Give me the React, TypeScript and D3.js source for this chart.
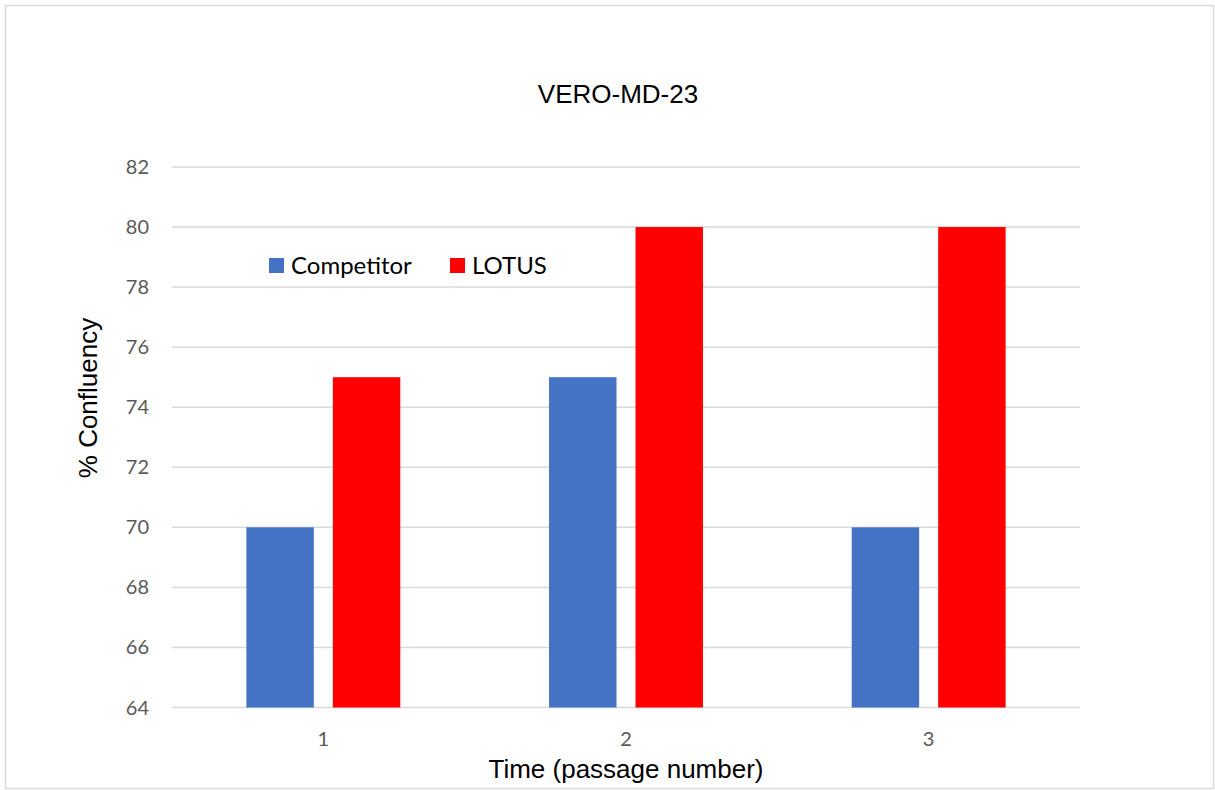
import React from "react";
import * as d3 from "d3";

const categories = ["1", "2", "3"];
const seriesNames = ["Competitor", "LOTUS"];
const competitorValues = [70, 75, 70];
const lotusValues = [75, 80, 80];
const yTicks = [64, 66, 68, 70, 72, 74, 76, 78, 80, 82];
const colors = ["#4472C4", "#FF0000"];

const W = 1215;
const H = 790;
const plotLeft = 172;
const plotRight = 1080;
const plotTop = 167;
const plotBottom = 707.5;

export default function App() {
  const x0 = d3.scaleBand<string>().domain(categories).range([plotLeft, plotRight]).padding(0);
  const x1 = d3
    .scaleBand<string>()
    .domain(seriesNames)
    .range([0, x0.bandwidth()])
    .paddingInner(0.22)
    .paddingOuter(0.86);
  const y = d3.scaleLinear().domain([64, 82]).range([plotBottom, plotTop]);
  const seriesValues = [competitorValues, lotusValues];
  const tickFont = "Lato, 'Open Sans', sans-serif";
  const arial = "'Liberation Sans', Arial, sans-serif";

  return (
    <svg
      width={W}
      height={H}
      style={{ position: "absolute", left: 0, top: 0, background: "#fff" }}
    >
      <rect x={5.5} y={5.5} width={1208} height={783} fill="#fff" stroke="#d9d9d9" strokeWidth={1.5} />
      <text x={618} y={103} textAnchor="middle" fontFamily={arial} fontSize={26} fill="#000">
        VERO-MD-23
      </text>
      {yTicks.map((t) => (
        <g key={t}>
          <line x1={plotLeft} x2={plotRight} y1={y(t)} y2={y(t)} stroke="#d9d9d9" strokeWidth={1.5} />
          <text
            x={149}
            y={y(t)}
            dy="0.35em"
            textAnchor="end"
            fontFamily={tickFont}
            fontSize={20}
            fill="#595959"
          >
            {t}
          </text>
        </g>
      ))}
      {categories.map((c, i) => (
        <g key={c}>
          {seriesNames.map((s, j) => {
            const v = seriesValues[j][i];
            const bx = (x0(c) as number) + (x1(s) as number);
            return (
              <rect
                key={s}
                x={bx}
                y={y(v)}
                width={x1.bandwidth()}
                height={y(64) - y(v)}
                fill={colors[j]}
              />
            );
          })}
          <text
            x={(x0(c) as number) + x0.bandwidth() / 2}
            y={739}
            dy="0.35em"
            textAnchor="middle"
            fontFamily={tickFont}
            fontSize={20}
            fill="#595959"
          >
            {c}
          </text>
        </g>
      ))}
      <g>
        <rect x={269} y={258} width={15} height={15} fill={colors[0]} />
        <text x={291} y={266} dy="0.35em" fontFamily={tickFont} fontSize={24} fill="#000">
          {seriesNames[0]}
        </text>
        <rect x={450} y={258} width={15} height={15} fill={colors[1]} />
        <text x={472} y={266} dy="0.35em" fontFamily={tickFont} fontSize={24} fill="#000">
          {seriesNames[1]}
        </text>
      </g>
      <text
        transform={`translate(97, 398) rotate(-90)`}
        textAnchor="middle"
        fontFamily={arial}
        fontSize={26}
        fill="#000"
      >
        % Confluency
      </text>
      <text x={626} y={778} textAnchor="middle" fontFamily={arial} fontSize={26} fill="#000">
        Time (passage number)
      </text>
    </svg>
  );
}
